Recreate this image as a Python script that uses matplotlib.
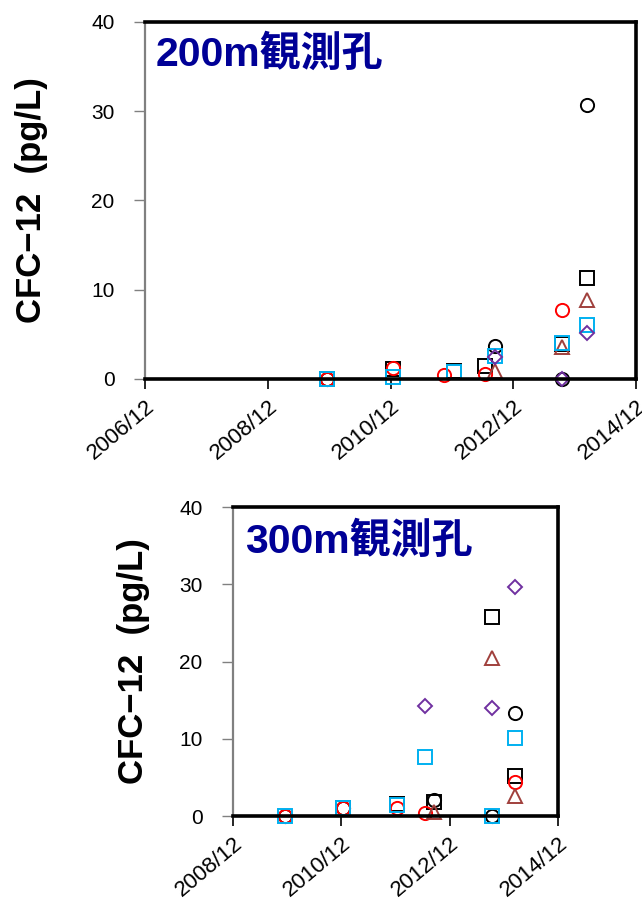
import datetime as dt
import numpy as np
import matplotlib
matplotlib.use('Agg')
import matplotlib.pyplot as plt
import matplotlib.dates as mdates

plt.rcParams['font.family'] = ['Liberation Sans', 'DejaVu Sans']

nan = np.nan

# 200m borehole: sampling dates and CFC-12 (pg/L) for each series
dates_200 = [dt.date(2009, 11, 15), dt.date(2010, 12, 15), dt.date(2011, 10, 15),
             dt.date(2011, 12, 15), dt.date(2012, 6, 15), dt.date(2012, 8, 15),
             dt.date(2013, 9, 15), dt.date(2014, 2, 15)]
blk_circle_200 = [0.0, nan, nan, nan, nan, 3.7, 0.0, 30.7]
blk_square_200 = [0.0, 1.1, nan, 0.9, 1.5, nan, 3.9, 11.3]
red_circle_200 = [0.0, 1.2, 0.45, nan, 0.6, nan, 7.7, nan]
brn_triangle_200 = [nan, nan, nan, nan, nan, 0.9, 3.6, 8.8]
cyan_square_200 = [0.0, 0.2, nan, 0.8, nan, 2.6, 4.0, 6.1]
pur_diamond_200 = [nan, nan, nan, nan, nan, 2.5, 0.0, 5.1]

# 300m borehole
dates_300 = [dt.date(2009, 11, 15), dt.date(2010, 12, 15), dt.date(2011, 12, 15),
             dt.date(2012, 6, 15), dt.date(2012, 8, 15), dt.date(2013, 9, 15),
             dt.date(2014, 2, 15)]
blk_circle_300 = [0.0, 1.0, nan, nan, 2.1, 0.0, 13.3]
blk_square_300 = [nan, 1.0, 1.6, nan, 1.8, 25.8, 5.2]
red_circle_300 = [0.0, 1.0, 1.0, 0.4, nan, nan, 4.4]
brn_triangle_300 = [nan, nan, nan, nan, 0.5, 20.4, 2.6]
cyan_square_300 = [0.0, 1.0, 1.4, 7.6, nan, 0.0, 10.1]
pur_diamond_300 = [nan, nan, nan, 14.2, nan, 14.0, 29.7]

styles = [('o', 'black'), ('s', 'black'), ('o', '#FF0000'),
          ('^', '#A0403C'), ('s', '#00B0F0'), ('D', '#7030A0')]

y_ticks = [0, 10, 20, 30, 40]
mixed = ['Liberation Sans', 'Noto Sans CJK JP']


def draw_panel(ax, dates, series, title, x0, x1, label_x, title_off):
    for vals, (m, c) in zip(series, styles):
        ms = 7 if m == 'D' else 9.5
        ax.plot(dates, vals, linestyle='none', marker=m, markersize=ms,
                markerfacecolor='none', markeredgecolor=c, markeredgewidth=1.4,
                clip_on=False)
    ax.set_xlim(x0, x1)
    ax.set_ylim(0, 40)
    ax.set_yticks(y_ticks)
    ticks = [dt.date(y, 12, 1) for y in range(x0.year, x1.year + 1, 2)]
    ax.set_xticks(ticks)
    ax.xaxis.set_major_formatter(mdates.DateFormatter('%Y/%m'))
    for lbl in ax.get_xticklabels():
        lbl.set_rotation(40)
        lbl.set_ha('right')
        lbl.set_rotation_mode('anchor')
    ax.tick_params(axis='x', labelsize=16, length=7, width=1.2, color='black',
                   direction='out', pad=5)
    ax.tick_params(axis='y', labelsize=15, length=8, width=1.0, color='#808080',
                   direction='out', pad=14)
    for s in ['top', 'right', 'bottom']:
        ax.spines[s].set_linewidth(2.6)
        ax.spines[s].set_color('black')
    ax.spines['left'].set_linewidth(1.6)
    ax.spines['left'].set_color('#808080')
    ax.set_ylabel('CFC−12  (pg/L)', family=mixed, fontsize=25, fontweight='bold')
    ax.yaxis.set_label_coords(label_x, 0.5)
    ax.annotate(title, xy=(0, 1), xycoords='axes fraction', xytext=title_off,
                textcoords='offset pixels', family=mixed, fontsize=29.5,
                fontweight='bold', color='#000096', va='center', ha='left')


fig = plt.figure(figsize=(6.42, 9.08), dpi=100)
ax1 = fig.add_axes([0.2259, 0.5826, 0.7648, 0.3932])
ax2 = fig.add_axes([0.3629, 0.1013, 0.5062, 0.3403])

draw_panel(ax1, dates_200,
           [blk_circle_200, blk_square_200, red_circle_200,
            brn_triangle_200, cyan_square_200, pur_diamond_200],
           '200m観測孔', dt.date(2006, 12, 1), dt.date(2014, 12, 1),
           -0.198, (11, -32))
draw_panel(ax2, dates_300,
           [blk_circle_300, blk_square_300, red_circle_300,
            brn_triangle_300, cyan_square_300, pur_diamond_300],
           '300m観測孔', dt.date(2008, 12, 1), dt.date(2014, 12, 1),
           -0.255, (12, -34))

fig.savefig('out.png', dpi=100)
